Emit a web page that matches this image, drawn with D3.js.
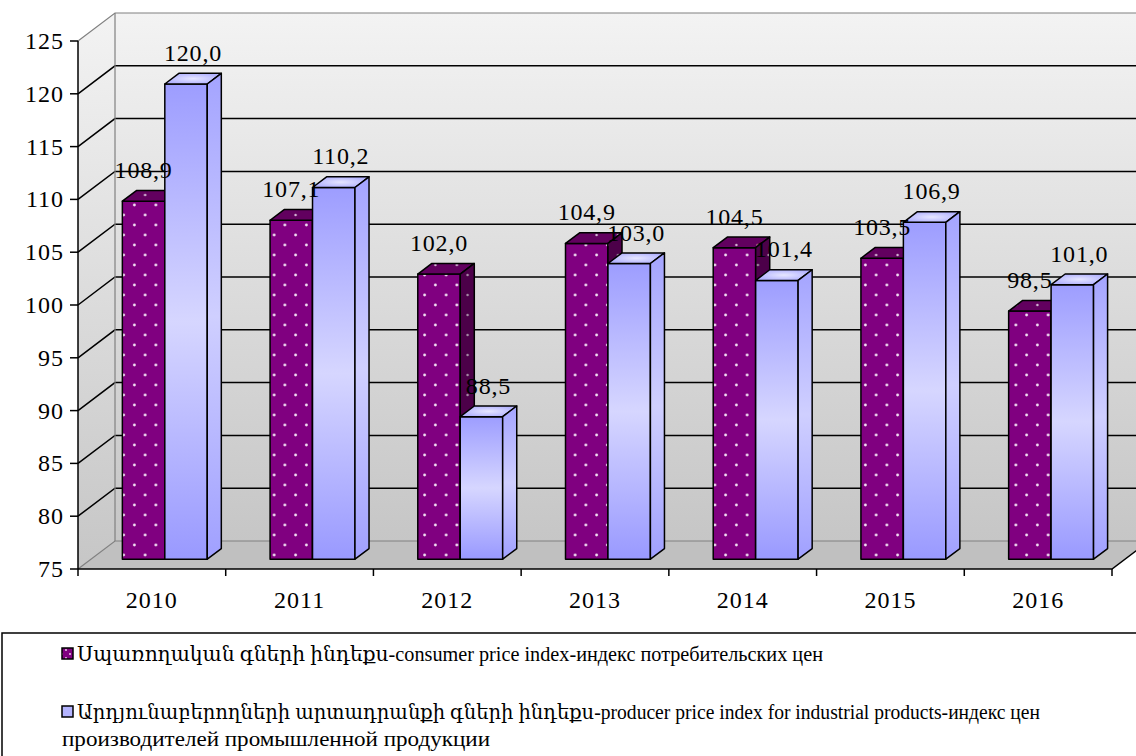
<!DOCTYPE html>
<html>
<head>
<meta charset="utf-8">
<script src="https://cdn.jsdelivr.net/npm/d3@7"></script>
<style>
  body { margin: 0; background: #fff; }
  text { font-family: "Liberation Serif", "DejaVu Serif", serif; }
</style>
</head>
<body>
<div id="chart"></div>
<script>
const years = ["2010", "2011", "2012", "2013", "2014", "2015", "2016"]
const consumer = [108.9, 107.1, 102.0, 104.9, 104.5, 103.5, 98.5]
const producer = [120.0, 110.2, 88.5, 103.0, 101.4, 106.9, 101.0]
const yTicks = [75, 80, 85, 90, 95, 100, 105, 110, 115, 120, 125]
const seriesNames = [
  "Սպառողական գների ինդեքս-consumer price index-индекс потребительских цен",
  "Արդյունաբերողների արտադրանքի գների ինդեքս-producer price index for industrial products-индекс цен",
  "производителей промышленной продукции"
]

const width = 1136, height = 756
const plotL = 78, plotR = 1112, plotT = 41, plotB = 569
const DX = 37, DY = 28          // depth of the box
const d0 = 0.35, d1 = 0.73      // depth of the bars inside the box

const fmt = v => d3.format(".1f")(v).replace(".", ",")
const p = (x, y, d) => [x + d * DX, y - d * DY]

const svg = d3.select("#chart").append("svg")
  .attr("width", width).attr("height", height)

const defs = svg.append("defs")

const wallGrad = defs.append("linearGradient").attr("id", "wall")
  .attr("x1", 0).attr("y1", 0).attr("x2", 0).attr("y2", 1)
wallGrad.append("stop").attr("offset", "0%").attr("stop-color", "#f3f3f3")
wallGrad.append("stop").attr("offset", "100%").attr("stop-color", "#c6c6c6")

const blueGrad = defs.append("linearGradient").attr("id", "blue")
  .attr("x1", 0).attr("y1", 0).attr("x2", 0).attr("y2", 1)
blueGrad.append("stop").attr("offset", "0%").attr("stop-color", "#9d9dff")
blueGrad.append("stop").attr("offset", "50%").attr("stop-color", "#d6d6ff")
blueGrad.append("stop").attr("offset", "100%").attr("stop-color", "#9999ff")

const blueSide = defs.append("linearGradient").attr("id", "blueSide")
  .attr("x1", 0).attr("y1", 0).attr("x2", 0).attr("y2", 1)
blueSide.append("stop").attr("offset", "0%").attr("stop-color", "#a4a4ff")
blueSide.append("stop").attr("offset", "50%").attr("stop-color", "#cfcfff")
blueSide.append("stop").attr("offset", "100%").attr("stop-color", "#a0a0ff")

const blueTop = defs.append("radialGradient").attr("id", "blueTop")
blueTop.append("stop").attr("offset", "0%").attr("stop-color", "#e6e6ff")
blueTop.append("stop").attr("offset", "100%").attr("stop-color", "#b4b4ff")

function dots(id, base, dot, w, h, r) {
  const pat = defs.append("pattern").attr("id", id)
    .attr("patternUnits", "userSpaceOnUse").attr("width", w).attr("height", h)
  pat.append("rect").attr("width", w).attr("height", h).attr("fill", base)
  pat.append("circle").attr("cx", w * 0.25).attr("cy", h * 0.25).attr("r", r).attr("fill", dot)
  pat.append("circle").attr("cx", w * 0.75).attr("cy", h * 0.75).attr("r", r).attr("fill", dot)
}
dots("purple", "#800080", "#f4e4f4", 21.5, 20, 1.4)
dots("purpleTop", "#62005f", "#d6bcd6", 21.5, 20, 1.2)
dots("purpleSide", "#4c0049", "#a890a8", 21.5, 20, 1.2)
dots("purpleLegend", "#800080", "#f4e4f4", 8, 8, 0.9)

svg.append("rect").attr("width", width).attr("height", height).attr("fill", "#fff")

const x = d3.scaleBand().domain(years).range([plotL, plotR])
const xs = d3.scaleBand().domain(["c", "p"]).range([0, x.bandwidth()]).paddingOuter(0.74)
const y = d3.scaleLinear().domain([75, 125]).range([plotB, plotT])

const poly = pts => pts.map(q => q.join(",")).join(" ")

// walls
const walls = svg.append("g")
walls.append("polygon")
  .attr("points", poly([p(plotL, plotT, 1), p(plotR, plotT, 1), p(plotR, plotB, 1), p(plotL, plotB, 1)]))
  .attr("fill", "url(#wall)")
walls.append("polygon")
  .attr("points", poly([p(plotL, plotT, 0), p(plotL, plotT, 1), p(plotL, plotB, 1), p(plotL, plotB, 0)]))
  .attr("fill", "url(#wall)")
walls.append("polygon")
  .attr("points", poly([p(plotL, plotB, 0), p(plotL, plotB, 1), p(plotR, plotB, 1), p(plotR, plotB, 0)]))
  .attr("fill", "#c0c0c0")

// gridlines on back and side wall
yTicks.forEach(t => {
  const edge = t === 75 || t === 125
  const col = edge ? "#808080" : "#000"
  walls.append("polyline")
    .attr("points", poly([p(plotL, y(t), 0), p(plotL, y(t), 1), p(plotR, y(t), 1)]))
    .attr("fill", "none").attr("stroke", col).attr("stroke-width", edge ? 1.2 : 1.5)
})
walls.append("line")
  .attr("x1", p(plotL, 0, 1)[0]).attr("x2", p(plotL, 0, 1)[0])
  .attr("y1", p(0, plotT, 1)[1]).attr("y2", p(0, plotB, 1)[1])
  .attr("stroke", "#808080").attr("stroke-width", 1.2)

// front axes
const axes = svg.append("g")
axes.append("line").attr("x1", plotL).attr("x2", plotL).attr("y1", plotT).attr("y2", plotB)
  .attr("stroke", "#000").attr("stroke-width", 1.5)
axes.append("polyline")
  .attr("points", poly([[plotL, plotB], [plotR, plotB], p(plotR, plotB, 1)]))
  .attr("fill", "none").attr("stroke", "#000").attr("stroke-width", 1.5)

axes.selectAll(".ytick").data(yTicks).join("line")
  .attr("x1", plotL - 8).attr("x2", plotL).attr("y1", d => y(d)).attr("y2", d => y(d))
  .attr("stroke", "#000").attr("stroke-width", 1.5)
axes.selectAll(".ylab").data(yTicks).join("text")
  .attr("x", plotL - 14).attr("y", d => y(d))
  .attr("text-anchor", "end").attr("dominant-baseline", "central")
  .attr("font-size", 24).attr("letter-spacing", 1).text(d => d)

const bounds = years.map(d => x(d)).concat([plotR])
axes.selectAll(".xtick").data(bounds).join("line")
  .attr("x1", d => d).attr("x2", d => d).attr("y1", plotB).attr("y2", plotB + 7)
  .attr("stroke", "#000").attr("stroke-width", 1.5)
axes.selectAll(".xlab").data(years).join("text")
  .attr("x", d => x(d) + x.bandwidth() / 2).attr("y", plotB + 31)
  .attr("text-anchor", "middle").attr("dominant-baseline", "central")
  .attr("font-size", 24).attr("letter-spacing", 1).text(d => d)

// bars
const bars = []
years.forEach((yr, i) => {
  bars.push({ year: yr, key: "c", value: consumer[i] })
  bars.push({ year: yr, key: "p", value: producer[i] })
})

const style = {
  c: { front: "url(#purple)", top: "url(#purpleTop)", side: "url(#purpleSide)", dx: 0 },
  p: { front: "url(#blue)", top: "url(#blueTop)", side: "url(#blueSide)", dx: 7 }
}

const barG = svg.append("g")
bars.forEach(b => {
  const x0 = x(b.year) + xs(b.key), x1 = x0 + xs.bandwidth()
  const yt = y(b.value), yb = y(75)
  const s = style[b.key]
  const g = barG.append("g").attr("stroke", "#000").attr("stroke-width", 1.5).attr("stroke-linejoin", "round")
  g.append("polygon")
    .attr("points", poly([p(x0, yt, d0), p(x1, yt, d0), p(x1, yb, d0), p(x0, yb, d0)]))
    .attr("fill", s.front)
  g.append("polygon")
    .attr("points", poly([p(x0, yt, d0), p(x0, yt, d1), p(x1, yt, d1), p(x1, yt, d0)]))
    .attr("fill", s.top)
  g.append("polygon")
    .attr("points", poly([p(x1, yt, d0), p(x1, yt, d1), p(x1, yb, d1), p(x1, yb, d0)]))
    .attr("fill", s.side)
  b.lx = p((x0 + x1) / 2, yt, d0)[0] + s.dx
  b.ly = p(0, yt, d0)[1] - 31
})

svg.append("g").selectAll("text").data(bars).join("text")
  .attr("x", d => d.lx).attr("y", d => d.ly)
  .attr("text-anchor", "middle").attr("dominant-baseline", "central")
  .attr("font-size", 24).attr("letter-spacing", 0.8).text(d => fmt(d.value))

// legend
const leg = svg.append("g")
leg.append("rect").attr("x", 2).attr("y", 633).attr("width", 1150).attr("height", 140)
  .attr("fill", "#fff").attr("stroke", "#000").attr("stroke-width", 1.5)
const marks = [{ y: 648, fill: "url(#purpleLegend)" }, { y: 706, fill: "#b4b4ff" }]
leg.selectAll(".mk").data(marks).join("rect")
  .attr("x", 62).attr("y", d => d.y).attr("width", 11).attr("height", 11)
  .attr("fill", d => d.fill).attr("stroke", "#000").attr("stroke-width", 1.5)
const legLines = [
  { x: 77, y: 661, size: 20, len: 746, t: seriesNames[0] },
  { x: 77, y: 719, size: 20, len: 963, t: seriesNames[1] },
  { x: 62, y: 746, size: 22, len: 428, t: seriesNames[2] }
]
leg.selectAll(".lt").data(legLines).join("text")
  .attr("x", d => d.x).attr("y", d => d.y)
  .attr("font-size", d => d.size)
  .attr("textLength", d => d.len).attr("lengthAdjust", "spacingAndGlyphs")
  .text(d => d.t)
</script>
</body>
</html>
